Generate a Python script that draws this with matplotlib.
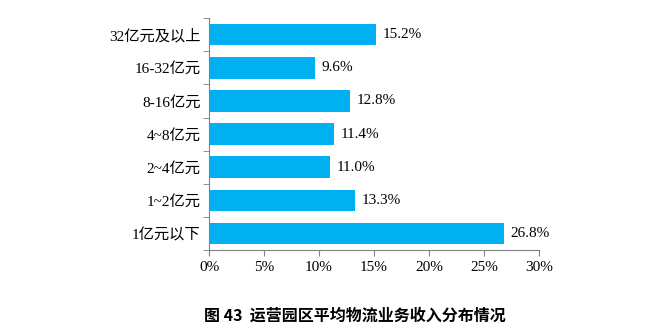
import matplotlib
matplotlib.use("Agg")
import matplotlib.pyplot as plt
from matplotlib.ticker import FixedLocator, NullFormatter

plt.rcParams['font.family'] = ['Liberation Serif', 'Noto Sans CJK SC']

categories = ["1亿元以下", "1~2亿元", "2~4亿元", "4~8亿元", "8-16亿元", "16-32亿元", "32亿元及以上"]
values = [26.8, 13.3, 11.0, 11.4, 12.8, 9.6, 15.2]
xticks = [0, 5, 10, 15, 20, 25, 30]
title = "图 43  运营园区平均物流业务收入分布情况"

fig = plt.figure(figsize=(6.6, 3.36), dpi=100)
ax = fig.add_axes([0.3167, 0.256, 0.5, 0.69])

pos = list(range(len(categories)))
ax.barh(pos, values, height=0.65, color="#00B0F0")
for p, v in zip(pos, values):
    ax.text(v + 0.6, p, f"{v:.1f}%", va="center", ha="left", fontsize=11)

ax.set_xlim(0, 30)
ax.set_ylim(-0.5, len(categories) - 0.5)
ax.set_xticks(xticks)
ax.set_xticklabels([f"{t}%" for t in xticks], fontsize=11)
ax.set_yticks(pos)
ax.set_yticklabels(categories, fontsize=11)
ax.tick_params(axis="y", which="major", length=0, pad=6)
ax.yaxis.set_minor_locator(FixedLocator([i - 0.5 for i in range(len(categories) + 1)]))
ax.yaxis.set_minor_formatter(NullFormatter())
ax.tick_params(axis="y", which="minor", length=4, color="#808080")
ax.tick_params(axis="x", length=4, color="#808080", pad=4)

for side in ("top", "right"):
    ax.spines[side].set_visible(False)
for side in ("left", "bottom"):
    ax.spines[side].set_color("#808080")
    ax.spines[side].set_linewidth(0.8)

fig.text(0.537, 0.062, title, ha="center", va="center", fontsize=11.5,
         fontweight="bold", family=['Noto Sans CJK SC', 'DejaVu Sans'])

fig.savefig("out.png", dpi=100, facecolor="white")
